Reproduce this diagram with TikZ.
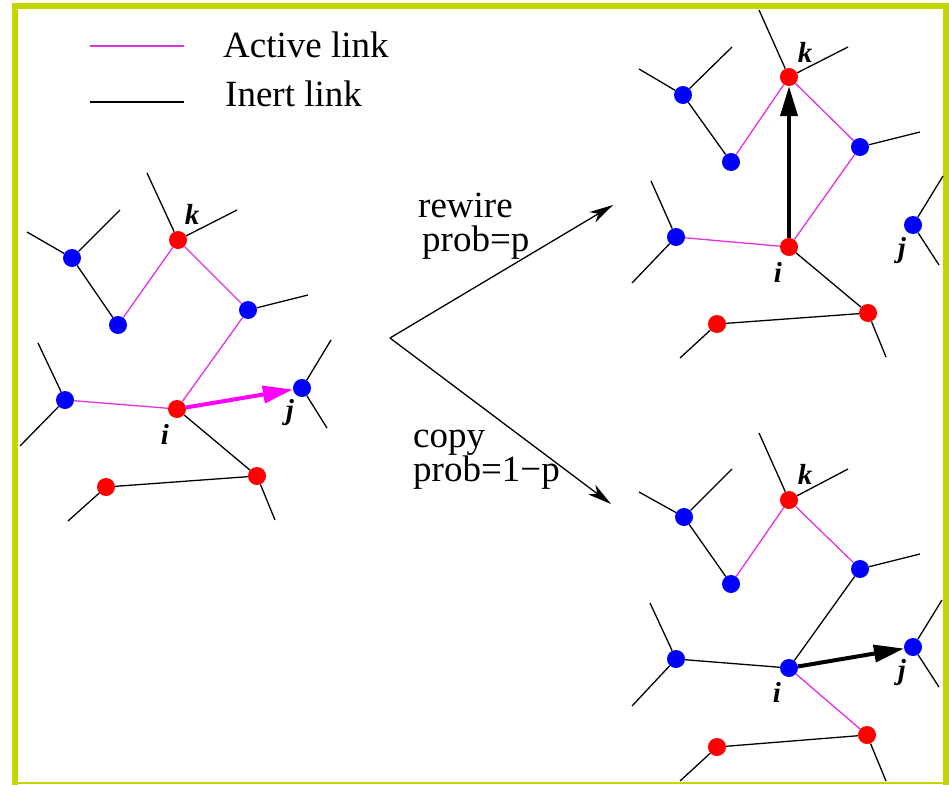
\documentclass[tikz,border=0pt]{standalone}
\usepackage{fontspec}
\setmainfont{Liberation Serif}
\usetikzlibrary{arrows.meta}
\definecolor{frame}{RGB}{196,214,0}
\definecolor{act}{RGB}{225,50,225}
\definecolor{mag}{RGB}{255,0,255}
\definecolor{nblue}{RGB}{0,0,255}
\definecolor{nred}{RGB}{255,0,0}
\tikzset{
  bnode/.style={circle,fill=nblue,minimum size=18pt,inner sep=0pt},
  rnode/.style={circle,fill=nred,minimum size=18pt,inner sep=0pt},
  inert/.style={draw=black,line width=1.3pt},
  active/.style={draw=act,line width=1.3pt},
  lab/.style={font=\fontsize{29}{29}\selectfont\bfseries\itshape,inner sep=0pt},
  txt/.style={font=\fontsize{37}{40}\selectfont,inner sep=0pt},
  bigarrow/.style={line width=4pt,-{Triangle[length=30pt,width=17pt]}},
  thinarrow/.style={line width=1.3pt,-{Stealth[length=24pt,width=12pt,inset=7pt]}}
}
\begin{document}
\begin{tikzpicture}[x=1pt,y=-1pt]
\useasboundingbox (0,0) rectangle (949,784);
% frame
\draw[frame,line width=6pt] (15,790) -- (15,6) -- (946,6) -- (946,790);
\draw[frame,line width=2.5pt] (12,783) -- (949,783);

% legend
\coordinate (lg1a) at (90,46); \coordinate (lg1b) at (184,46);
\coordinate (lg2a) at (90,102); \coordinate (lg2b) at (184,102);
\draw[active] (lg1a) -- (lg1b);
\draw[inert] (lg2a) -- (lg2b);
\node[txt,anchor=west] (tact) at (223,45) {Active link};
\node[txt,anchor=west] (tine) at (225,94) {Inert link};

% ---------- left graph ----------
\node[bnode] (LA1) at (72,258) {};
\node[bnode] (LA2) at (118,325) {};
\node[rnode] (Lk) at (178,240) {};
\node[bnode] (LB) at (248,310) {};
\node[bnode] (LC) at (65,400) {};
\node[rnode] (Li) at (177,409) {};
\node[bnode] (Lj) at (302,388) {};
\node[rnode] (LD) at (257,476) {};
\node[rnode] (LE) at (106,487) {};
\coordinate (LA1s1) at (27,232); \coordinate (LA1s2) at (120,210);
\coordinate (Lks1) at (147,173); \coordinate (Lks2) at (237,210);
\coordinate (LBs1) at (308,295);
\coordinate (LCs1) at (38,343); \coordinate (LCs2) at (20,446);
\coordinate (Ljs1) at (331,340); \coordinate (Ljs2) at (327,428);
\coordinate (LDs1) at (275,520);
\coordinate (LEs1) at (68,521);
\draw[inert] (LA1) -- (LA1s1); \draw[inert] (LA1) -- (LA1s2);
\draw[inert] (Lk) -- (Lks1); \draw[inert] (Lk) -- (Lks2);
\draw[inert] (LB) -- (LBs1);
\draw[inert] (LC) -- (LCs1); \draw[inert] (LC) -- (LCs2);
\draw[inert] (Lj) -- (Ljs1); \draw[inert] (Lj) -- (Ljs2);
\draw[inert] (LD) -- (LDs1);
\draw[inert] (LE) -- (LEs1);
\draw[inert] (LA1) -- (LA2);
\draw[active] (LA2) -- (Lk);
\draw[active] (Lk) -- (LB);
\draw[active] (LB) -- (Li);
\draw[active] (LC) -- (Li);
\draw[inert] (Li) -- (LD);
\draw[inert] (LE) -- (LD);
\draw[bigarrow,mag] (Li) -- (Lj);
\node[lab] (Llk) at (192,214) {k};
\node[lab] (Lli) at (165,434) {i};
\node[lab] (Llj) at (290,413) {j};

% ---------- middle arrows ----------
\coordinate (mv) at (390,338);
\coordinate (mup) at (613,205);
\coordinate (mdn) at (611,504);
\draw[thinarrow] (mv) -- (mup);
\draw[thinarrow] (mv) -- (mdn);
\node[txt,anchor=base west] (trw) at (418,217) {rewire};
\node[txt,anchor=base west] (tpp) at (422,251) {prob=p};
\node[txt,anchor=base west] (tcp) at (413,447) {copy};
\node[txt,anchor=base west] (tpq) at (413,481) {prob=1−p};

% ---------- top right graph ----------
\node[bnode] (TA1) at (683,95) {};
\node[bnode] (TA2) at (731,162) {};
\node[rnode] (Tk) at (789,77) {};
\node[bnode] (TB) at (860,147) {};
\node[bnode] (TC) at (676,237) {};
\node[rnode] (Ti) at (789,247) {};
\node[bnode] (Tj) at (913,225) {};
\node[rnode] (TD) at (868,313) {};
\node[rnode] (TE) at (717,324) {};
\coordinate (TA1s1) at (639,69); \coordinate (TA1s2) at (732,47);
\coordinate (Tks1) at (759,10); \coordinate (Tks2) at (848,47);
\coordinate (TBs1) at (920,132);
\coordinate (TCs1) at (651,181); \coordinate (TCs2) at (632,283);
\coordinate (Tjs1) at (943,176); \coordinate (Tjs2) at (939,265);
\coordinate (TDs1) at (886,357);
\coordinate (TEs1) at (680,358);
\draw[inert] (TA1) -- (TA1s1); \draw[inert] (TA1) -- (TA1s2);
\draw[inert] (Tk) -- (Tks1); \draw[inert] (Tk) -- (Tks2);
\draw[inert] (TB) -- (TBs1);
\draw[inert] (TC) -- (TCs1); \draw[inert] (TC) -- (TCs2);
\draw[inert] (Tj) -- (Tjs1); \draw[inert] (Tj) -- (Tjs2);
\draw[inert] (TD) -- (TDs1);
\draw[inert] (TE) -- (TEs1);
\draw[inert] (TA1) -- (TA2);
\draw[active] (TA2) -- (Tk);
\draw[active] (Tk) -- (TB);
\draw[active] (TB) -- (Ti);
\draw[active] (TC) -- (Ti);
\draw[inert] (Ti) -- (TD);
\draw[inert] (TE) -- (TD);
\draw[bigarrow] (Ti) -- (Tk);
\node[lab] (Tlk) at (805,52) {k};
\node[lab] (Tli) at (778,272) {i};
\node[lab] (Tlj) at (902,251) {j};

% ---------- bottom right graph ----------
\node[bnode] (BA1) at (684,517) {};
\node[bnode] (BA2) at (731,584) {};
\node[rnode] (Bk) at (789,500) {};
\node[bnode] (BB) at (860,569) {};
\node[bnode] (BC) at (676,659) {};
\node[bnode] (Bi) at (789,668) {};
\node[bnode] (Bj) at (913,647) {};
\node[rnode] (BD) at (867,735) {};
\node[rnode] (BE) at (717,747) {};
\coordinate (BA1s1) at (639,492); \coordinate (BA1s2) at (732,469);
\coordinate (Bks1) at (759,433); \coordinate (Bks2) at (848,469);
\coordinate (BBs1) at (920,554);
\coordinate (BCs1) at (650,603); \coordinate (BCs2) at (632,706);
\coordinate (Bjs1) at (942,600); \coordinate (Bjs2) at (939,687);
\coordinate (BDs1) at (886,781);
\coordinate (BEs1) at (680,781);
\draw[inert] (BA1) -- (BA1s1); \draw[inert] (BA1) -- (BA1s2);
\draw[inert] (Bk) -- (Bks1); \draw[inert] (Bk) -- (Bks2);
\draw[inert] (BB) -- (BBs1);
\draw[inert] (BC) -- (BCs1); \draw[inert] (BC) -- (BCs2);
\draw[inert] (Bj) -- (Bjs1); \draw[inert] (Bj) -- (Bjs2);
\draw[inert] (BD) -- (BDs1);
\draw[inert] (BE) -- (BEs1);
\draw[inert] (BA1) -- (BA2);
\draw[active] (BA2) -- (Bk);
\draw[active] (Bk) -- (BB);
\draw[inert] (BB) -- (Bi);
\draw[inert] (BC) -- (Bi);
\draw[active] (Bi) -- (BD);
\draw[inert] (BE) -- (BD);
\draw[bigarrow] (Bi) -- (Bj);
\node[lab] (Blk) at (805,474) {k};
\node[lab] (Bli) at (777,692) {i};
\node[lab] (Blj) at (902,673) {j};
\end{tikzpicture}
\end{document}
